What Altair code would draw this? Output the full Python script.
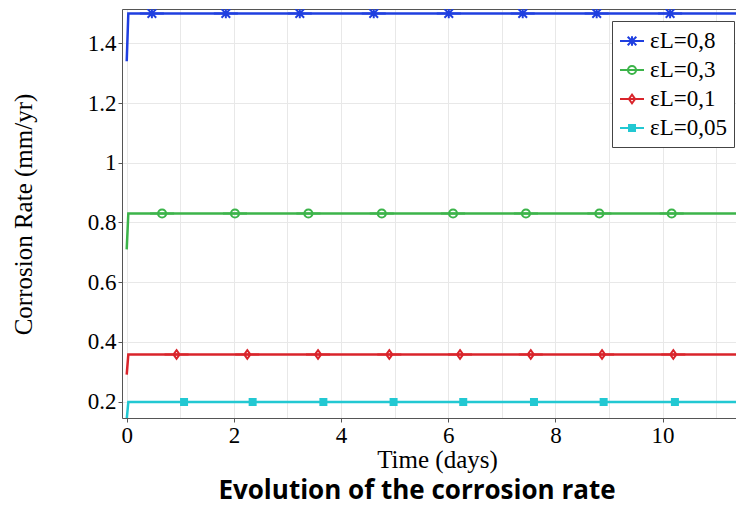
import altair as alt
import pandas as pd

series = ["εL=0,8", "εL=0,3", "εL=0,1", "εL=0,05"]
colors = ["#1f3fe0", "#3cb44a", "#d9242b", "#22c8d2"]
fills = ["transparent", "transparent", "transparent", "#22c8d2"]

start_vals = [1.34, 0.71, 0.29, 0.14]
plateau_vals = [1.50, 0.83, 0.358, 0.199]
line_times = [0.0, 0.03, 11.6]

marker_times = {
    "εL=0,8": [0.47, 1.85, 3.23, 4.61, 6.01, 7.39, 8.77, 10.14],
    "εL=0,3": [0.66, 2.02, 3.39, 4.76, 6.09, 7.45, 8.82, 10.17],
    "εL=0,1": [0.93, 2.25, 3.57, 4.90, 6.22, 7.54, 8.87, 10.20],
    "εL=0,05": [1.07, 2.35, 3.67, 4.98, 6.28, 7.60, 8.90, 10.23],
}

shapes = [
    "M-1,0H1M-0.36,-0.36L0.36,0.36M-0.36,0.36L0.36,-0.36M0,-0.4V0.4",
    "M-1,0H1M-0.34,0A0.34,0.34 0 1,0 0.34,0A0.34,0.34 0 1,0 -0.34,0",
    "M-1,0H1M0,-0.36L0.26,0L0,0.36L-0.26,0Z",
    "M-1,0H1M-0.25,-0.25H0.25V0.25H-0.25Z",
]

rows = []
for s, a, b in zip(series, start_vals, plateau_vals):
    vals = [a, b, b]
    for t, v in zip(line_times, vals):
        rows.append({"series": s, "t": t, "rate": v})
lines_df = pd.DataFrame(rows)

prow = []
for s, b in zip(series, plateau_vals):
    for t in marker_times[s]:
        prow.append({"series": s, "t": t, "rate": b})
pts_df = pd.DataFrame(prow)

xscale = alt.Scale(domain=[-0.088, 11.37], nice=False, zero=False)
yscale = alt.Scale(domain=[0.145, 1.515], nice=False, zero=False)

serif = "Liberation Serif"

x_axis = alt.Axis(
    values=list(range(0, 12)),
    labelExpr="datum.value % 2 === 0 ? datum.label : ''",
    tickOpacity={"condition": {"test": "datum.value % 2 !== 0", "value": 0}, "value": 1},
    labelFont=serif, labelFontSize=23, labelColor="black", labelPadding=2,
    tickSize=4, tickColor="#555", domainColor="#555",
    grid=True, gridColor="#e8e8e8",
    title="Time (days)", titleFont=serif, titleFontSize=25, titleFontWeight="normal",
    titleColor="black", titleX=315, titlePadding=0,
)
y_axis = alt.Axis(
    values=[0.2, 0.4, 0.6, 0.8, 1.0, 1.2, 1.4],
    format=".1~f",
    labelFont=serif, labelFontSize=23, labelColor="black", labelPadding=2,
    tickSize=4, tickColor="#555", domainColor="#555",
    grid=True, gridColor="#e8e8e8",
    title="Corrosion Rate (mm/yr)", titleFont=serif, titleFontSize=25,
    titleFontWeight="normal", titleColor="black",
    titleX=-86, titleY=205, titleAlign="center", titleBaseline="bottom",
)

leg = alt.Legend(
    orient="none", legendX=490, legendY=12, title=None,
    fillColor="white", strokeColor="#444", padding=7, cornerRadius=0,
    labelFont=serif, labelFontSize=23, labelColor="black", labelOffset=5,
    symbolSize=576, symbolStrokeWidth=2, rowPadding=4,
)

stroke_scale = alt.Scale(domain=series, range=colors)

lines = alt.Chart(lines_df).mark_line(strokeWidth=2.5, clip=True).encode(
    x=alt.X("t:Q", scale=xscale, axis=x_axis),
    y=alt.Y("rate:Q", scale=yscale, axis=y_axis),
    stroke=alt.Stroke("series:N", scale=stroke_scale, legend=leg),
    order="t:Q",
)

points = alt.Chart(pts_df).mark_point(size=576, strokeWidth=2, opacity=1, fillOpacity=1, clip=True).encode(
    x=alt.X("t:Q", scale=xscale,
            axis=alt.Axis(orient="top", labels=False, ticks=False, grid=False,
                          domainColor="#555", title=None)),
    y=alt.Y("rate:Q", scale=yscale, axis=y_axis),
    stroke=alt.Stroke("series:N", scale=stroke_scale, legend=leg),
    fill=alt.Fill("series:N", scale=alt.Scale(domain=series, range=fills), legend=leg),
    shape=alt.Shape("series:N", scale=alt.Scale(domain=series, range=shapes), legend=leg),
)

chart = (
    alt.layer(lines, points)
    .resolve_axis(x="independent")
    .properties(
        width=614, height=409,
        autosize=alt.AutoSizeParams(type="none"),
        padding={"left": 114, "top": 1, "right": 0, "bottom": 95},
        title=alt.TitleParams(
            "Evolution of the corrosion rate", orient="bottom", anchor="middle",
            frame="group", font="Open Sans", fontSize=26, fontWeight="bold",
            color="black", offset=6, dx=-12,
        ),
    )
    .configure_view(stroke=None)
    .configure(background="white")
)

chart.save("out.html", embed_options={"renderer": "svg", "actions": False})
